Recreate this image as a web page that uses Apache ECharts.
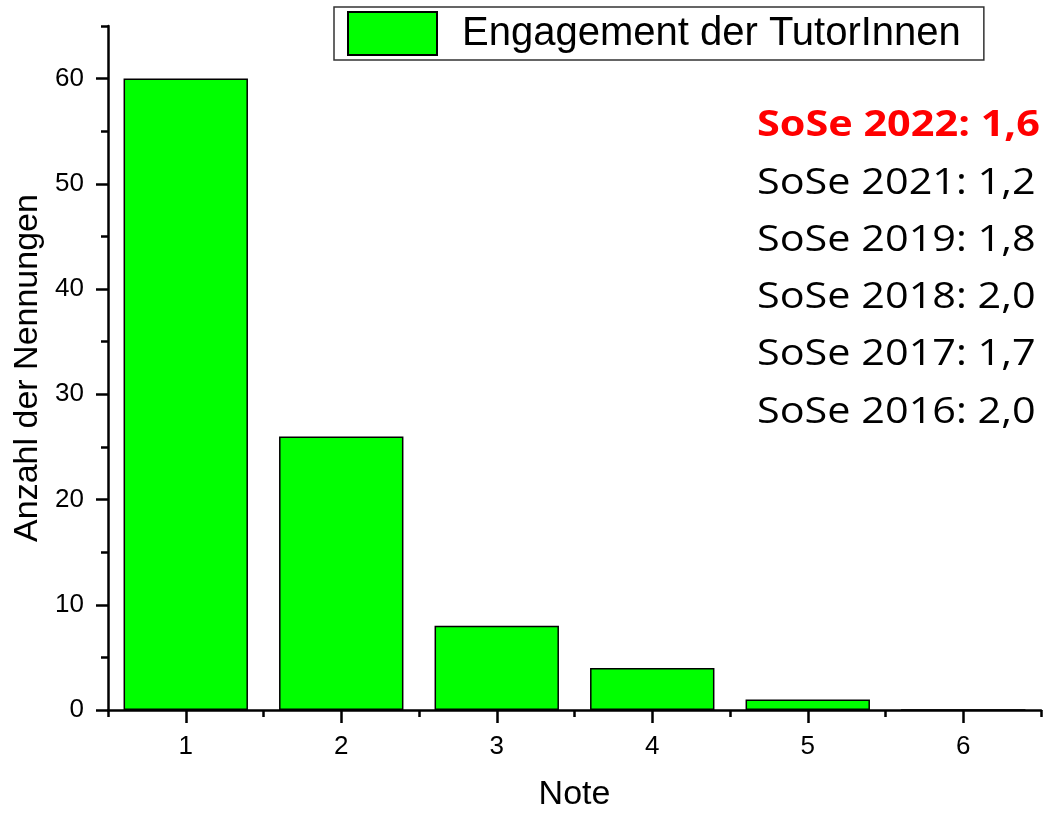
<!DOCTYPE html>
<html>
<head>
<meta charset="utf-8">
<script src="https://cdn.jsdelivr.net/npm/echarts@6/dist/echarts.min.js"></script>
<style>
  html, body { margin: 0; padding: 0; background: #fff; }
  #chart { width: 1045px; height: 817px; }
</style>
</head>
<body>
<div id="chart"></div>
<script>
// Daten
var noten = ['1', '2', '3', '4', '5', '6'];
var nennungen = [60, 26, 8, 4, 1, 0];
var yTicks = [0, 10, 20, 30, 40, 50, 60];
var serienName = 'Engagement der TutorInnen';
var semesterTexte = [
  'SoSe 2022: 1,6',
  'SoSe 2021: 1,2',
  'SoSe 2019: 1,8',
  'SoSe 2018: 2,0',
  'SoSe 2017: 1,7',
  'SoSe 2016: 2,0'
];

var chart = echarts.init(document.getElementById('chart'));
var font = 'Liberation Sans, Arial, sans-serif';

// Textblock rechts oben
var texte = semesterTexte.map(function (t, i) {
  return {
    type: 'text',
    left: 757,
    top: 108 + i * 57.3,
    scaleX: 1.15,
    style: {
      text: t,
      fontFamily: 'Open Sans',
      fontSize: 36,
      fontWeight: i === 0 ? 'bold' : 'normal',
      fill: i === 0 ? '#ff0000' : '#000'
    }
  };
});

chart.setOption({
  animation: false,
  grid: { left: 108, right: 4, top: 26, bottom: 105 },
  legend: {
    data: [serienName],
    left: 334,
    top: 7,
    padding: [4, 23, 4, 13],
    borderColor: '#333',
    borderWidth: 1.5,
    itemWidth: 89,
    itemHeight: 43,
    icon: 'rect',
    textStyle: { fontFamily: font, fontSize: 40, color: '#000', padding: [0, 0, 0, 20] }
  },
  xAxis: [{
    type: 'category',
    data: noten,
    name: 'Note',
    nameLocation: 'middle',
    nameGap: 68,
    nameTextStyle: { fontFamily: font, fontSize: 34, color: '#000' },
    axisLine: { lineStyle: { color: '#000', width: 2.5 } },
    axisTick: { show: true, alignWithLabel: true, length: 13, lineStyle: { color: '#000', width: 2.5 } },
    axisLabel: { fontFamily: font, fontSize: 26, color: '#000', margin: 24 }
  }, {
    // Zwischenstriche an den Klassengrenzen
    type: 'category',
    data: noten,
    position: 'bottom',
    axisLine: { show: false },
    axisTick: { show: true, length: 7, lineStyle: { color: '#000', width: 2.5 } },
    axisLabel: { show: false }
  }],
  yAxis: [{
    type: 'value',
    min: 0,
    max: 65,
    position: 'left',
    name: 'Anzahl der Nennungen',
    nameLocation: 'middle',
    nameGap: 62,
    nameTextStyle: { fontFamily: font, fontSize: 34, color: '#000' },
    splitLine: { show: false },
    axisLine: { show: true, lineStyle: { color: '#000', width: 2.5 } },
    axisTick: { show: true, customValues: yTicks, length: 12, lineStyle: { color: '#000', width: 2.5 } },
    axisLabel: { customValues: yTicks, fontFamily: font, fontSize: 26, color: '#000', margin: 24 }
  }, {
    // Zwischenstriche alle 5
    type: 'value',
    min: 0,
    max: 65,
    interval: 5,
    position: 'left',
    offset: 0,
    splitLine: { show: false },
    axisLine: { show: false },
    axisTick: { show: true, length: 7, lineStyle: { color: '#000', width: 2.5 } },
    axisLabel: { show: false }
  }],
  series: [{
    name: serienName,
    type: 'bar',
    data: nennungen,
    barCategoryGap: '20%',
    itemStyle: { color: '#00ff00', borderColor: '#000', borderWidth: 1.5 }
  }],
  graphic: texte
});
</script>
</body>
</html>
